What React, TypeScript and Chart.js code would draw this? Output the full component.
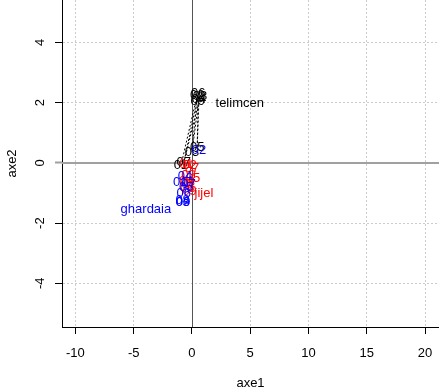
import React, { useEffect, useRef } from 'react';
import { Chart, registerables } from 'chart.js';

Chart.register(...registerables);

const xTicks = [-10, -5, 0, 5, 10, 15, 20];
const yTicks = [-4, -2, 0, 2, 4];
const xRange = [-11.15, 21.2];
const yRange = [-5.45, 5.41];

const years = ['01', '02', '03', '04', '05', '06', '07', '08', '09'];

const telimcenX = [-0.95, 0.45, 0.0, 0.6, 0.45, 0.55, -0.7, 0.7, 0.5];
const telimcenY = [-0.1, 2.25, 0.35, 2.1, 0.5, 2.3, 0.0, 2.2, 2.05];

const jijelX = [-0.5, -0.2, -0.3, -0.5, 0.1, -0.4, 0.0, -0.35, -0.2];
const jijelY = [-0.05, -0.1, -0.4, -0.6, -0.5, -0.85, -0.2, -0.65, -0.95];

const ghardaiaX = [-1.0, 0.6, -0.8, -0.6, -0.5, -0.7, -0.3, -0.8, -0.75];
const ghardaiaY = [-0.65, 0.43, -1.3, -0.45, -0.8, -1.0, -0.7, -1.25, -1.32];

const cityNames = ['telimcen', 'jijel', 'ghardaia'];
const cityX = [4.1, 1.03, -3.95];
const cityY = [1.96, -1.0, -1.56];
const cityColors = ['#000000', '#FF0000', '#0000FF'];

const FONT = "'Liberation Sans', Arial, sans-serif";

const toPoints = (xs: number[], ys: number[]) => xs.map((x, i) => ({ x, y: ys[i] }));

const zeroLines = {
  id: 'zeroLines',
  beforeDatasetsDraw(chart: any) {
    const { ctx, chartArea } = chart;
    const xs = chart.scales.x;
    const ys = chart.scales.y;
    const y0 = ys.getPixelForValue(0);
    const x0 = xs.getPixelForValue(0);
    ctx.save();
    ctx.setLineDash([]);
    ctx.strokeStyle = '#a0a0a0';
    ctx.lineWidth = 2;
    ctx.beginPath();
    ctx.moveTo(chartArea.left, y0);
    ctx.lineTo(chartArea.right, y0);
    ctx.stroke();
    ctx.strokeStyle = '#555555';
    ctx.lineWidth = 1;
    ctx.beginPath();
    ctx.moveTo(Math.round(x0) + 0.5, chartArea.top);
    ctx.lineTo(Math.round(x0) + 0.5, chartArea.bottom);
    ctx.stroke();
    ctx.restore();
  },
};

const textLabels = {
  id: 'textLabels',
  afterDatasetsDraw(chart: any) {
    const { ctx } = chart;
    ctx.save();
    ctx.font = `13px ${FONT}`;
    ctx.textAlign = 'center';
    ctx.textBaseline = 'middle';
    chart.data.datasets.forEach((ds: any, di: number) => {
      const meta = chart.getDatasetMeta(di);
      meta.data.forEach((el: any, i: number) => {
        const col = Array.isArray(ds.labelColors) ? ds.labelColors[i] : ds.labelColors;
        ctx.fillStyle = col;
        ctx.fillText(ds.labels[i], el.x, el.y);
      });
    });
    ctx.restore();
  },
};

export default function App() {
  const ref = useRef<HTMLCanvasElement | null>(null);
  useEffect(() => {
    document.body.style.margin = '0';
    const canvas = ref.current!;
    const chart = new Chart(canvas, {
      type: 'scatter',
      data: {
        datasets: [
          {
            data: toPoints(telimcenX, telimcenY),
            showLine: true,
            borderColor: '#000000',
            borderWidth: 1,
            borderDash: [2, 2],
            pointRadius: 0,
            labels: years,
            labelColors: '#000000',
          } as any,
          {
            data: toPoints(jijelX, jijelY),
            showLine: false,
            pointRadius: 0,
            labels: years,
            labelColors: '#FF0000',
          } as any,
          {
            data: toPoints(ghardaiaX, ghardaiaY),
            showLine: false,
            pointRadius: 0,
            labels: years,
            labelColors: '#0000FF',
          } as any,
          {
            data: toPoints(cityX, cityY),
            showLine: false,
            pointRadius: 0,
            labels: cityNames,
            labelColors: cityColors,
          } as any,
        ],
      },
      options: {
        animation: false,
        responsive: false,
        layout: { padding: 0 },
        plugins: { legend: { display: false }, tooltip: { enabled: false } },
        scales: {
          x: {
            type: 'linear',
            min: xRange[0],
            max: xRange[1],
            afterBuildTicks: (s: any) => { s.ticks = xTicks.map((v) => ({ value: v })); },
            afterFit: (s: any) => { s.height = 65; s.paddingLeft = 0; s.paddingRight = 0; },
            grid: {
              color: (c: any) => (c.tick && c.tick.value === 0 ? 'rgba(0,0,0,0)' : '#cccccc'),
              lineWidth: 1,
              tickColor: '#000000',
              tickLength: 7,
              tickWidth: 1,
              tickBorderDash: [],
            },
            border: { display: true, color: '#000000', width: 1, dash: [2, 2] },
            ticks: {
              color: '#000000',
              font: { family: FONT, size: 13 },
              padding: 12,
              maxRotation: 0,
              minRotation: 0,
              callback: (v: any) => String(v),
            },
            title: {
              display: true,
              text: 'axe1',
              color: '#000000',
              font: { family: FONT, size: 13 },
              padding: { top: 0, bottom: 1 },
            },
          },
          y: {
            type: 'linear',
            min: yRange[0],
            max: yRange[1],
            afterBuildTicks: (s: any) => { s.ticks = yTicks.map((v) => ({ value: v })); },
            afterFit: (s: any) => { s.width = 62; s.paddingTop = 0; s.paddingBottom = 0; },
            grid: {
              color: (c: any) => (c.tick && c.tick.value === 0 ? 'rgba(0,0,0,0)' : '#cccccc'),
              lineWidth: 1,
              tickColor: (c: any) => (c.tick && c.tick.value === 0 ? '#a0a0a0' : '#000000'),
              tickWidth: (c: any) => (c.tick && c.tick.value === 0 ? 2 : 1),
              tickLength: 7,
              tickBorderDash: [],
            },
            border: { display: true, color: '#000000', width: 1, dash: [2, 2] },
            ticks: {
              color: '#000000',
              font: { family: FONT, size: 13 },
              padding: 9,
              minRotation: 90,
              maxRotation: 90,
              crossAlign: 'center',
              callback: (v: any) => String(v),
            },
            title: {
              display: true,
              text: 'axe2',
              color: '#000000',
              font: { family: FONT, size: 13 },
              padding: { top: 5, bottom: 0 },
            },
          },
        },
      } as any,
      plugins: [zeroLines, textLabels],
    });
    return () => chart.destroy();
  }, []);
  return (
    <div style={{ position: 'absolute', left: 0, top: 0, width: 439, height: 392 }}>
      <canvas ref={ref} width={439} height={392} />
    </div>
  );
}
